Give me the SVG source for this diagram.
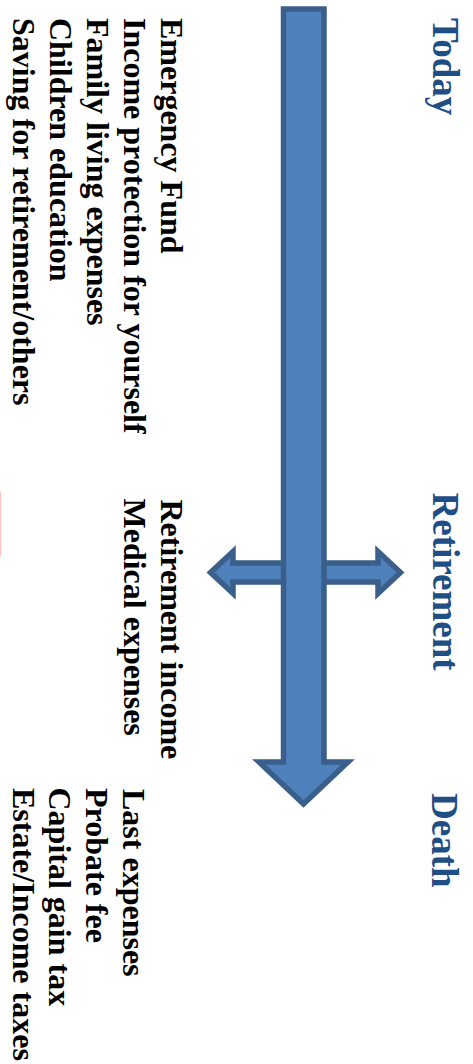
<svg xmlns="http://www.w3.org/2000/svg" width="473" height="1064" viewBox="0 0 473 1064">
<style>
.arr{fill:#4F81BD;stroke:#3A5F8B;stroke-width:5.5;stroke-linejoin:miter}
.stage{font-family:"Liberation Serif","Times New Roman",serif;font-weight:bold;font-size:37px;fill:#1F4E85}
.item{font-family:"Liberation Serif","Times New Roman",serif;font-weight:bold;font-size:32px;fill:#000}
</style>
<rect width="473" height="1064" fill="#fff"/>
<g id="connectors">
<path id="cross-arrow" class="arr" d="M210.5,572.5 L233,551.5 V563 H378 V551.5 L400.5,572.5 L378,593.5 V582 H233 V593.5 Z" stroke-width="4.5"/>
<path id="timeline-arrow" class="arr" d="M283.5,9 H324 V762 H348 L303.5,804 L259,762 H283.5 Z"/>
</g>
<g id="today">
<text class="stage" transform="translate(433,18) rotate(90)">Today</text>
</g>
<g id="retirement">
<text class="stage" transform="translate(433,492.5) rotate(90)">Retirement</text>
</g>
<g id="death">
<text class="stage" transform="translate(432,793) rotate(90)">Death</text>
</g>
<g id="today-items">
<text class="item" transform="translate(160.5,18) rotate(90)">Emergency Fund</text>
<text class="item" transform="translate(123.7,18) rotate(90)">Income protection for yourself</text>
<text class="item" transform="translate(86.9,18) rotate(90)">Family living expenses</text>
<text class="item" transform="translate(50.1,18) rotate(90)">Children education</text>
<text class="item" transform="translate(13.3,18) rotate(90)">Saving for retirement/others</text>
</g>
<g id="retirement-items">
<text class="item" transform="translate(160.5,499.5) rotate(90)">Retirement income</text>
<text class="item" transform="translate(123.7,498.5) rotate(90)">Medical expenses</text>
</g>
<g id="death-items">
<text class="item" transform="translate(122.5,789) rotate(90)">Last expenses</text>
<text class="item" transform="translate(86,788) rotate(90)">Probate fee</text>
<text class="item" transform="translate(49.2,787.5) rotate(90)">Capital gain tax</text>
<text class="item" transform="translate(12.5,788) rotate(90)">Estate/Income taxes</text>
</g>
<rect id="pink-mark" x="0" y="492" width="1.2" height="64" fill="#FFC4C4"/>
</svg>
